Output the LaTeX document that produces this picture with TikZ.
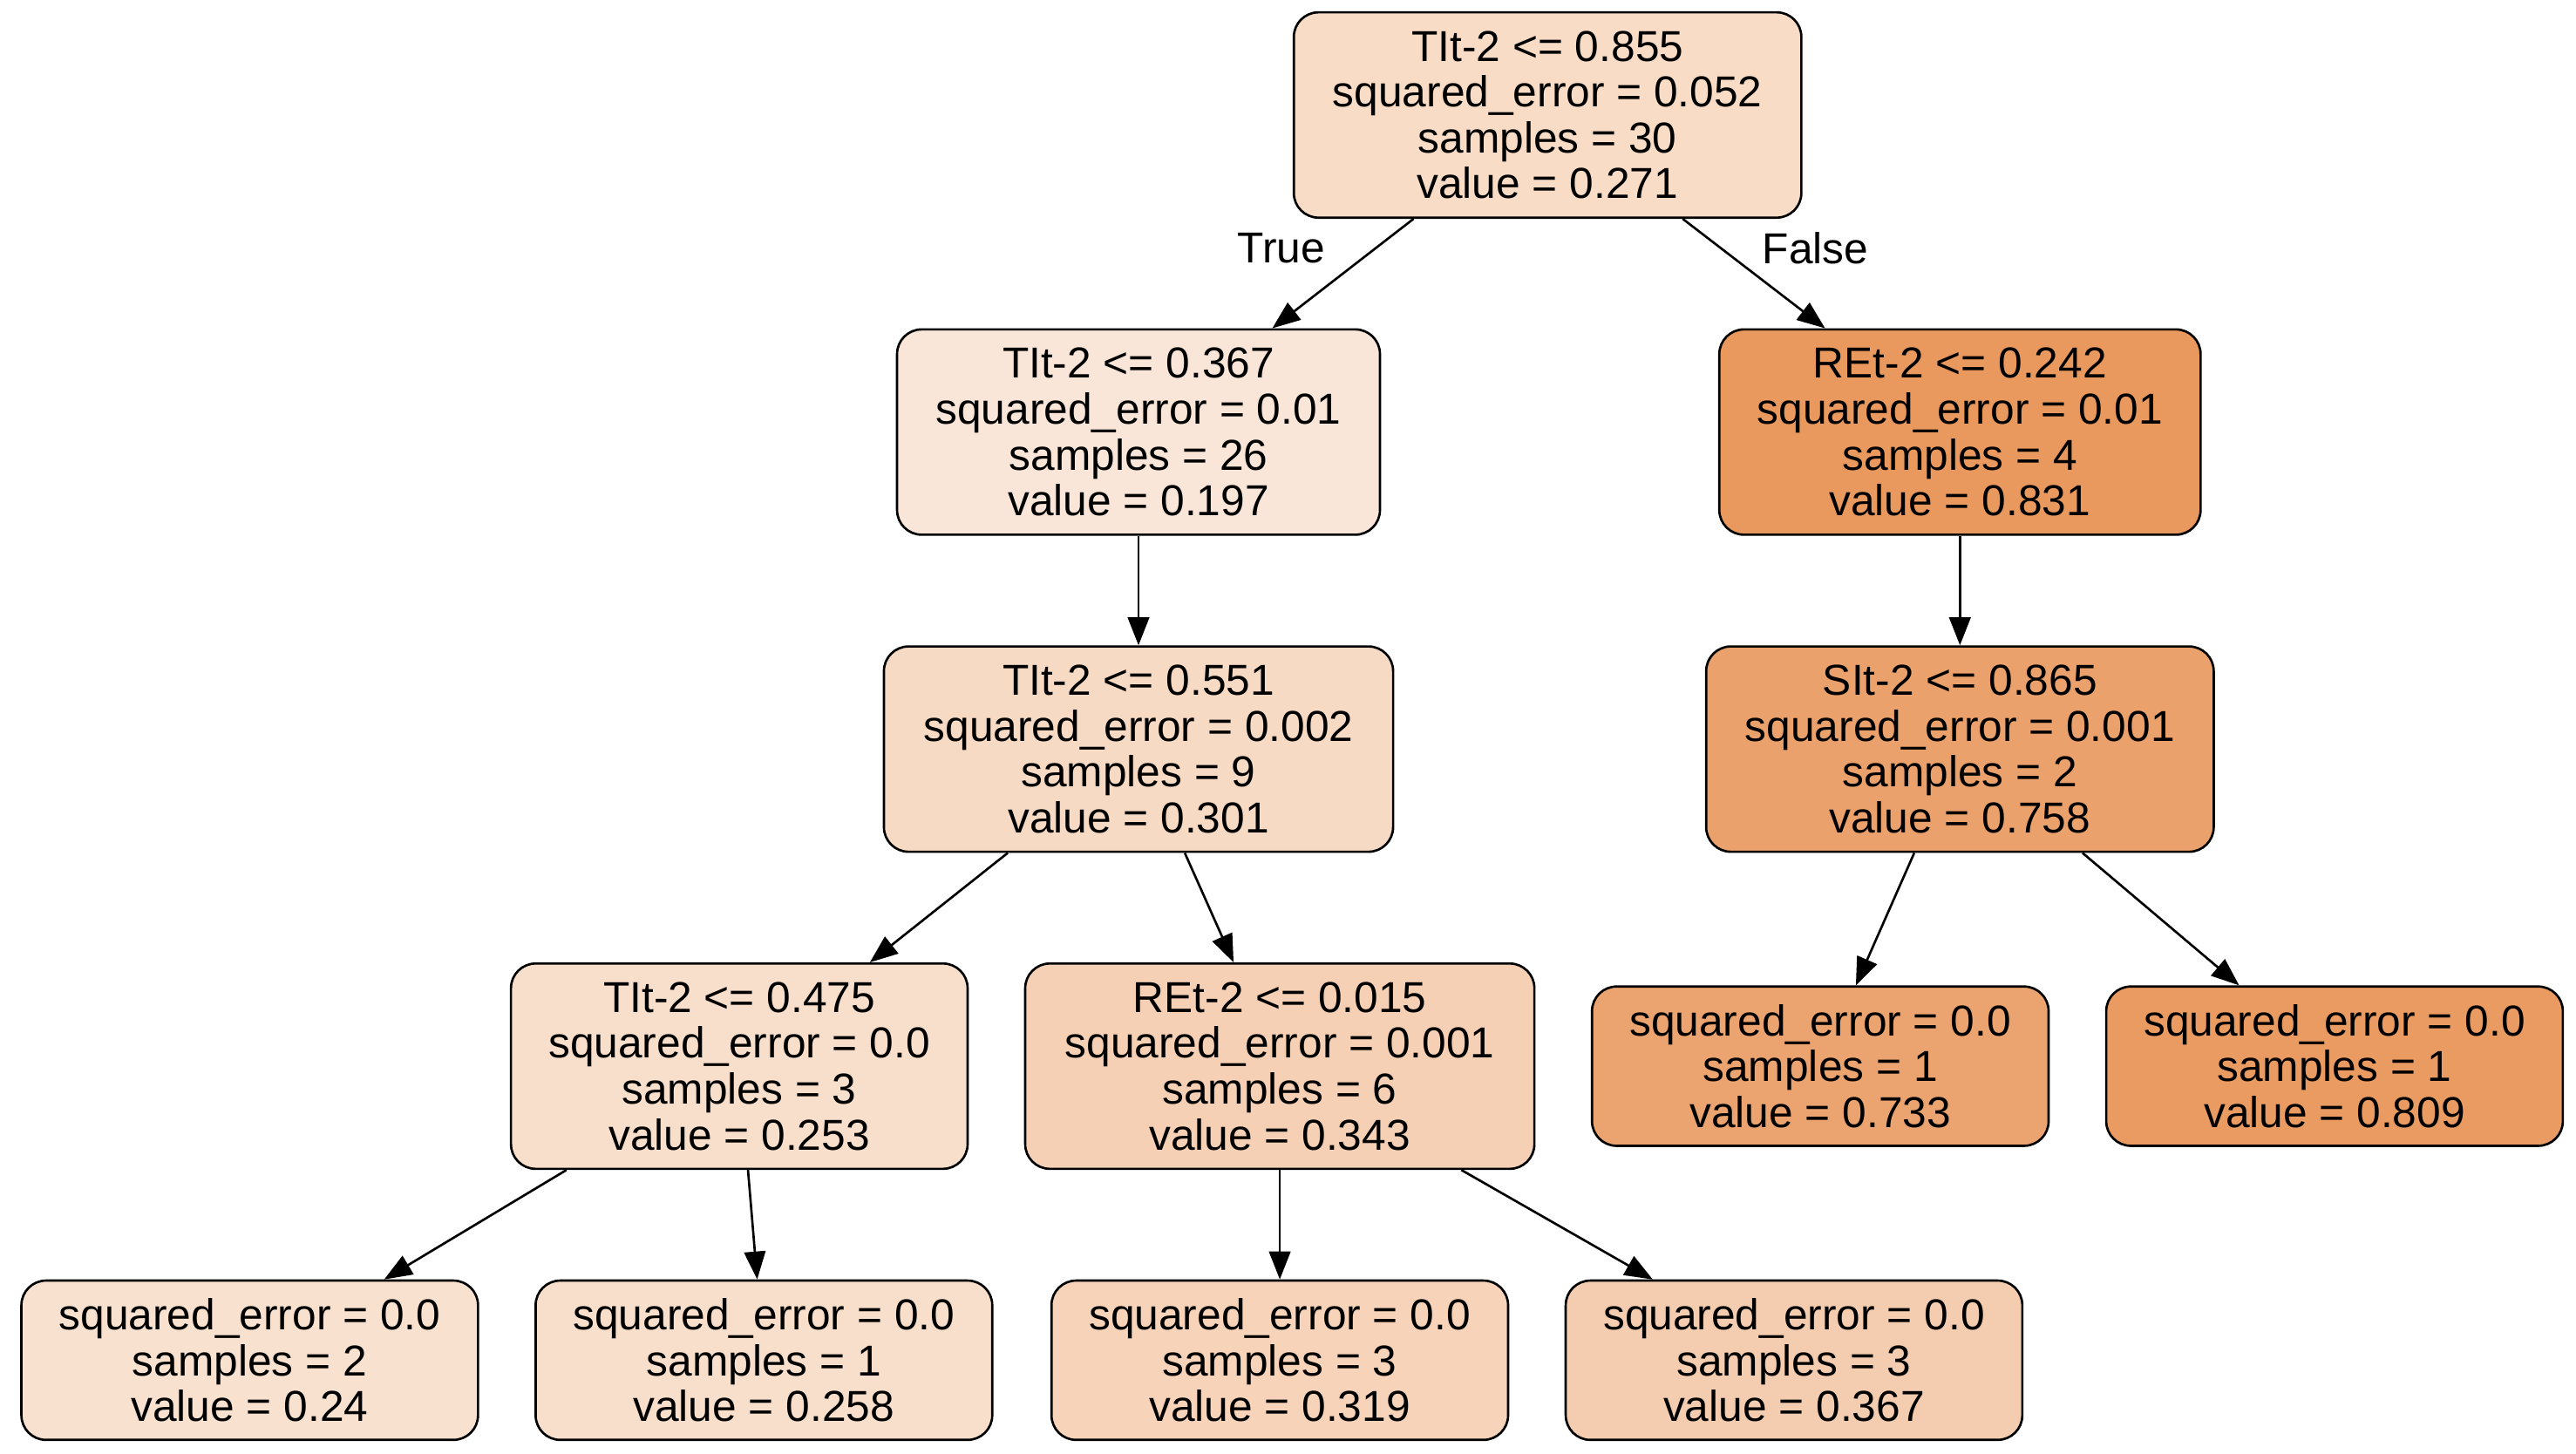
\documentclass[tikz,border=0pt]{standalone}
\usepackage{fontspec}
\setmainfont{Liberation Sans}
\usetikzlibrary{arrows.meta}
\begin{document}
\begin{tikzpicture}[x=0.02cm,y=-0.02cm,
  box/.style={draw=black,line width=0.8pt,rounded corners=0.3cm,align=center,inner sep=0pt,
    font=\fontsize{15}{15.9}\selectfont,minimum height=2.5cm},
  leaf/.style={box,minimum height=1.94cm,minimum width=5.56cm},
  edge/.style={line width=0.8pt,-{Triangle[length=0.34cm,width=0.26cm]}},
  lab/.style={font=\fontsize{15}{16}\selectfont}]
\useasboundingbox (0,0) rectangle (1568,885);
\node[box,fill={rgb,255:red,249;green,220;blue,198},minimum width=6.18cm] (r) at (942,70) {TIt-2 <= 0.855\\squared\_error = 0.052\\samples = 30\\value = 0.271};
\node[box,fill={rgb,255:red,250;green,230;blue,216},minimum width=5.88cm] (n1) at (693,263) {TIt-2 <= 0.367\\squared\_error = 0.01\\samples = 26\\value = 0.197};
\node[box,fill={rgb,255:red,233;green,153;blue,93},minimum width=5.86cm] (n2) at (1193,263) {REt-2 <= 0.242\\squared\_error = 0.01\\samples = 4\\value = 0.831};
\node[box,fill={rgb,255:red,247;green,218;blue,196},minimum width=6.2cm] (n3) at (693,456) {TIt-2 <= 0.551\\squared\_error = 0.002\\samples = 9\\value = 0.301};
\node[box,fill={rgb,255:red,235;green,161;blue,107},minimum width=6.18cm] (n4) at (1193,456) {SIt-2 <= 0.865\\squared\_error = 0.001\\samples = 2\\value = 0.758};
\node[box,fill={rgb,255:red,248;green,223;blue,204},minimum width=5.56cm] (n5) at (450,649) {TIt-2 <= 0.475\\squared\_error = 0.0\\samples = 3\\value = 0.253};
\node[box,fill={rgb,255:red,245;green,208;blue,180},minimum width=6.2cm] (n6) at (779,649) {REt-2 <= 0.015\\squared\_error = 0.001\\samples = 6\\value = 0.343};
\node[leaf,fill={rgb,255:red,235;green,163;blue,111}] (n7) at (1108,649) {squared\_error = 0.0\\samples = 1\\value = 0.733};
\node[leaf,fill={rgb,255:red,233;green,155;blue,97}] (n8) at (1421,649) {squared\_error = 0.0\\samples = 1\\value = 0.809};
\node[leaf,fill={rgb,255:red,249;green,225;blue,207}] (n9) at (152,828) {squared\_error = 0.0\\samples = 2\\value = 0.24};
\node[leaf,fill={rgb,255:red,248;green,223;blue,204}] (n10) at (465,828) {squared\_error = 0.0\\samples = 1\\value = 0.258};
\node[leaf,fill={rgb,255:red,246;green,211;blue,185}] (n11) at (779,828) {squared\_error = 0.0\\samples = 3\\value = 0.319};
\node[leaf,fill={rgb,255:red,244;green,205;blue,176}] (n12) at (1092,828) {squared\_error = 0.0\\samples = 3\\value = 0.367};
\draw[edge] (r) -- (n1);
\draw[edge] (r) -- (n2);
\draw[edge] (n1) -- (n3);
\draw[edge] (n2) -- (n4);
\draw[edge] (n3) -- (n5);
\draw[edge] (n3) -- (n6);
\draw[edge] (n4) -- (n7);
\draw[edge] (n4) -- (n8);
\draw[edge] (n5) -- (n9);
\draw[edge] (n5) -- (n10);
\draw[edge] (n6) -- (n11);
\draw[edge] (n6) -- (n12);
\node[lab] (t) at (780,151) {True};
\node[lab] (f) at (1105,151) {False};
\end{tikzpicture}
\end{document}
